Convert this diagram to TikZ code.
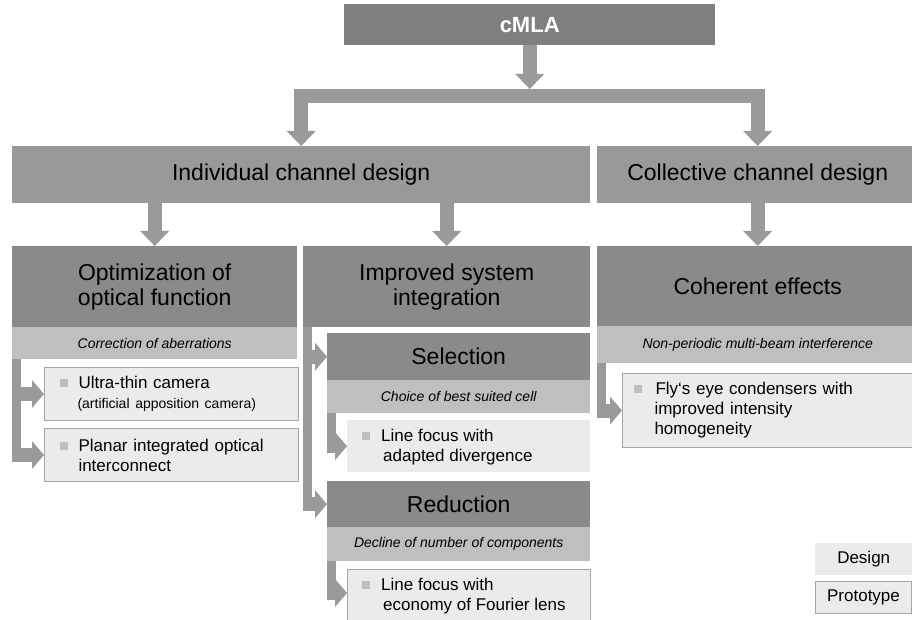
\documentclass[tikz,border=0pt]{standalone}
\usepackage{fontspec}
\setmainfont{Liberation Sans}
\usetikzlibrary{arrows.meta,calc}
\definecolor{dark}{HTML}{8A8A8A}
\definecolor{top}{HTML}{7F7F7F}
\definecolor{mid}{HTML}{999999}
\definecolor{arr}{HTML}{9A9A9A}
\definecolor{sub}{HTML}{BFBFBF}
\definecolor{light}{HTML}{EBEBEB}
\definecolor{edge}{HTML}{A6A6A6}
\definecolor{bulc}{HTML}{BFBFBF}
\newcommand{\itembul}{\textcolor{bulc}{\rule[1.5pt]{8pt}{8pt}}\hspace{11pt}}
\tikzset{
  box/.style={rectangle, inner sep=0pt, anchor=north west, align=center},
  topbox/.style={box, fill=top, text=white, font=\fontsize{22}{26}\selectfont\bfseries},
  lvlbox/.style={box, fill=mid, font=\fontsize{23}{26}\selectfont},
  darkbox/.style={box, fill=dark, font=\fontsize{23}{25}\selectfont},
  subbox/.style={box, fill=sub, font=\fontsize{14}{16}\selectfont\itshape},
  designbox/.style={box, fill=light, align=left, inner xsep=15pt, font=\fontsize{17}{20}\selectfont},
  protobox/.style={designbox, draw=edge, line width=1pt},
  itemtext/.style={anchor=north west, inner sep=0pt, align=left, font=\fontsize{17}{20}\selectfont},
  legbox/.style={box, fill=light, font=\fontsize{17}{20}\selectfont},
  varrow/.style={draw=arr, line width=14pt, -{Triangle[width=29pt,length=15pt,line width=0pt]}},
  harrow/.style={draw=arr, line width=14pt, -{Triangle[width=28pt,length=12pt,line width=0pt]}},
  vbar/.style={draw=arr, line width=9pt},
}
\begin{document}
\begin{tikzpicture}[x=1pt,y=-1pt]
\useasboundingbox (0,0) rectangle (912,620);
\clip (0,0) rectangle (912,620);
\fill[white] (0,0) rectangle (912,620);
% top
\node[topbox, minimum width=371pt, minimum height=41pt] (cmla) at (344,4) {cMLA};
\node[box, fill=arr, minimum width=471pt, minimum height=14pt] (bar) at (294,89) {};
\node[lvlbox, minimum width=578pt, minimum height=57pt] (indiv) at (12,146) {Individual channel design};
\node[lvlbox, minimum width=321pt, minimum height=57pt] (coll) at (597,146) {Collective channel design};
\draw[varrow] (cmla.south) -- (cmla.south |- bar.north);
\draw[varrow] (bar.south -| indiv.north) -- (indiv.north);
\draw[varrow] (bar.south -| coll.north) -- (coll.north);
% level 2
\node[darkbox, minimum width=285pt, minimum height=81pt] (opt) at (12,246) {Optimization of\\optical function};
\node[subbox, minimum width=285pt, minimum height=32pt] (optsub) at (12,327) {Correction of aberrations};
\node[darkbox, minimum width=287pt, minimum height=81pt] (imp) at (303,246) {Improved system\\integration};
\node[darkbox, minimum width=321pt, minimum height=80pt] (coh) at (597,246) {Coherent effects};
\node[subbox, minimum width=321pt, minimum height=37pt] (cohsub) at (597,326) {Non-periodic multi-beam interference};
\draw[varrow] (indiv.south -| opt.north) -- (opt.north);
\draw[varrow] (indiv.south -| imp.north) -- (imp.north);
\draw[varrow] (coll.south) -- (coh.north);
% optimization items
\node[protobox, minimum width=254pt, minimum height=53pt, text width=224pt] (ultra) at (44,367)
  {\itembul Ultra-thin camera\\\hspace*{18pt}{\fontsize{14}{17}\selectfont(artificial apposition camera)}};
\node[protobox, minimum width=254pt, minimum height=53pt, text width=224pt] (planar) at (44,428)
  {\itembul Planar integrated optical\\\hspace*{19pt}interconnect};
\draw[vbar] ([xshift=4.5pt]optsub.south west) -- ($([xshift=4.5pt]optsub.south west |- planar.west)+(0,7)$);
\draw[harrow] (optsub.south west |- ultra.west) -- (ultra.west);
\draw[harrow] (optsub.south west |- planar.west) -- (planar.west);
% improved integration
\node[darkbox, minimum width=263pt, minimum height=47pt] (sel) at (327,333) {Selection};
\node[subbox, minimum width=263pt, minimum height=33pt] (selsub) at (327,380) {Choice of best suited cell};
\node[designbox, minimum width=243pt, minimum height=52pt] (lfa) at (347,420) {};
\node[itemtext] (lfat) at (362,429) {\itembul Line focus with\\\hspace*{21pt}adapted divergence};
\node[darkbox, minimum width=263pt, minimum height=46pt] (red) at (327,481) {Reduction};
\node[subbox, minimum width=263pt, minimum height=34pt] (redsub) at (327,527) {Decline of number of components};
\node[protobox, minimum width=243pt, minimum height=60pt] (lfb) at (347,569) {};
\node[itemtext] (lfbt) at (362,578) {\itembul Line focus with\\\hspace*{21pt}economy of Fourier lens};
\coordinate (lfbin) at ($(lfb.north west)+(0,24)$);
\draw[vbar] ([xshift=4.5pt]imp.south west) -- ($([xshift=4.5pt]imp.south west |- red.west)+(0,7)$);
\draw[harrow] (imp.south west |- sel.west) -- (sel.west);
\draw[harrow] (imp.south west |- red.west) -- (red.west);
\draw[vbar] ([xshift=4.5pt]selsub.south west) -- ($([xshift=4.5pt]selsub.south west |- lfa.west)+(0,7)$);
\draw[harrow] (selsub.south west |- lfa.west) -- (lfa.west);
\draw[vbar] ([xshift=4.5pt]redsub.south west) -- ($([xshift=4.5pt]redsub.south west |- lfbin)+(0,7)$);
\draw[harrow] (redsub.south west |- lfbin) -- (lfbin);
% coherent
\node[protobox, minimum width=300pt, minimum height=74pt, text width=278pt, inner xsep=11pt] (fly) at (622,373)
  {\textcolor{bulc}{\rule[1.5pt]{8pt}{8pt}}\hspace{14pt}Fly‘s eye condensers with\\\hspace*{21pt}improved intensity\\\hspace*{21pt}homogeneity};
\draw[vbar] ([xshift=4.5pt]cohsub.south west) -- ($([xshift=4.5pt]cohsub.south west |- fly.west)+(0,7)$);
\draw[harrow] (cohsub.south west |- fly.west) -- (fly.west);
% legend
\node[legbox, minimum width=97pt, minimum height=32pt] (design) at (815,543) {Design};
\node[legbox, draw=edge, line width=1pt, minimum width=96pt, minimum height=32pt] (proto) at (815,581) {Prototype};
\end{tikzpicture}
\end{document}
